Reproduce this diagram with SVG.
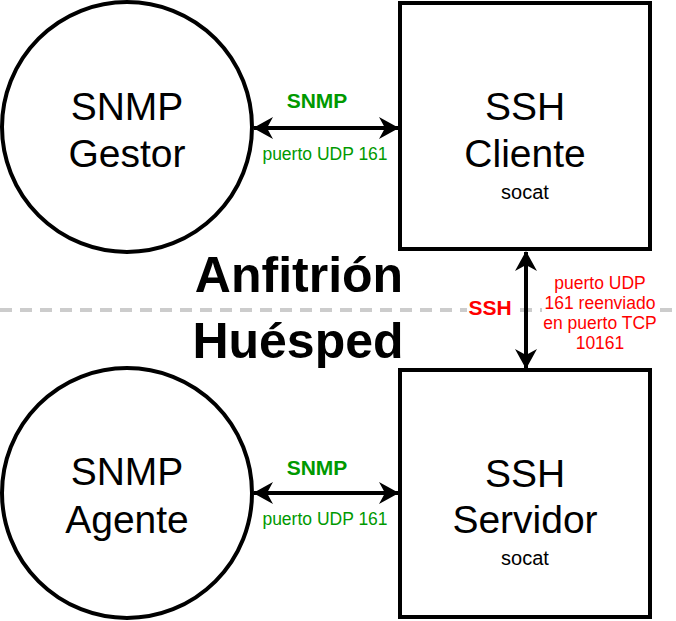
<svg xmlns="http://www.w3.org/2000/svg" width="676" height="621" viewBox="0 0 676 621">
<style>
.node{fill:#fff;stroke:#000;stroke-width:4}
.big{font-family:"Liberation Sans",Arial,sans-serif;font-size:39px;fill:#000;text-anchor:middle}
.small{font-family:"Liberation Sans",Arial,sans-serif;font-size:20px;fill:#000;text-anchor:middle}
.zone{font-family:"Liberation Sans",Arial,sans-serif;font-size:50px;font-weight:bold;fill:#000;text-anchor:middle}
.lblb{font-family:"Liberation Sans",Arial,sans-serif;font-size:21px;font-weight:bold;text-anchor:middle}
.lbl{font-family:"Liberation Sans",Arial,sans-serif;font-size:17.5px;text-anchor:middle}
.green{fill:#009900}
.red{fill:#FF0000}
.edge{stroke:#000;stroke-width:4;fill:none}
</style>
<defs>
<marker id="arr" viewBox="0 0 20 22" refX="19" refY="11" markerWidth="20" markerHeight="22" markerUnits="userSpaceOnUse" orient="auto-start-reverse">
<path d="M0,0 L20,11 L0,22 L6,11 Z" fill="#000"/>
</marker>
</defs>
<line x1="0" y1="310" x2="676" y2="310" stroke="#cccccc" stroke-width="4" stroke-dasharray="12 8"/>
<g id="gestor">
<circle class="node" cx="127" cy="127" r="125"/>
<text class="big" x="127" y="120">SNMP</text>
<text class="big" x="127" y="167">Gestor</text>
</g>
<g id="cliente">
<rect class="node" x="400" y="3" width="250" height="246"/>
<text class="big" x="525" y="120">SSH</text>
<text class="big" x="525" y="167">Cliente</text>
<text class="small" x="525" y="199">socat</text>
</g>
<g id="agente">
<circle class="node" cx="127" cy="493" r="125"/>
<text class="big" x="127" y="485">SNMP</text>
<text class="big" x="127" y="533">Agente</text>
</g>
<g id="servidor">
<rect class="node" x="400" y="370" width="250" height="247"/>
<text class="big" x="525" y="487">SSH</text>
<text class="big" x="525" y="533">Servidor</text>
<text class="small" x="525" y="565">socat</text>
</g>
<g id="zones">
<text class="zone" x="299" y="292">Anfitrión</text>
<text class="zone" x="298" y="358">Huésped</text>
</g>
<g id="connectors">
<line class="edge" x1="254" y1="128" x2="398" y2="128" marker-start="url(#arr)" marker-end="url(#arr)"/>
<line class="edge" x1="254" y1="493" x2="398" y2="493" marker-start="url(#arr)" marker-end="url(#arr)"/>
<line class="edge" x1="526" y1="252" x2="526" y2="368" marker-start="url(#arr)" marker-end="url(#arr)"/>
<text class="lblb green" x="317" y="108">SNMP</text>
<text class="lbl green" x="325" y="160">puerto UDP 161</text>
<text class="lblb green" x="317" y="475">SNMP</text>
<text class="lbl green" x="325" y="525">puerto UDP 161</text>
<rect x="467" y="298" width="46" height="24" fill="#fff"/>
<text class="lblb red" x="490" y="315">SSH</text>
<rect x="542" y="274" width="116" height="80" fill="#fff"/>
<text class="lbl red" x="600" y="289">puerto UDP</text>
<text class="lbl red" x="600" y="309">161 reenviado</text>
<text class="lbl red" x="600" y="329">en puerto TCP</text>
<text class="lbl red" x="600" y="349">10161</text>
</g>
</svg>
